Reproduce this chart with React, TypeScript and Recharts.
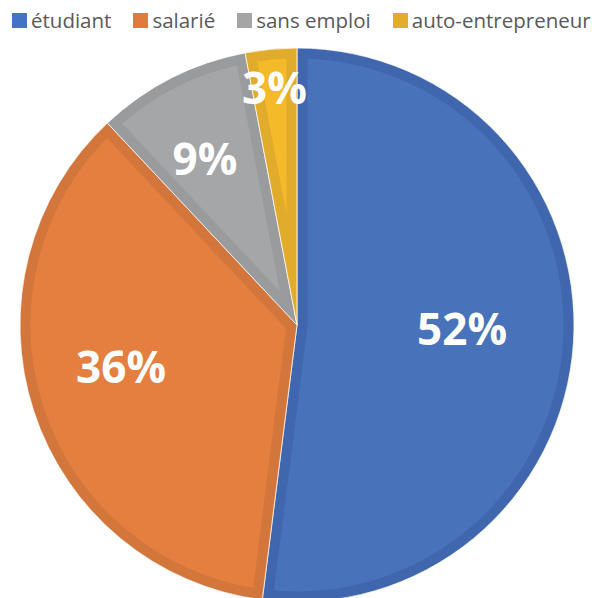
import React from 'react';
import { PieChart, Pie, Cell } from 'recharts';

const categories = ['étudiant', 'salarié', 'sans emploi', 'auto-entrepreneur'];
const values = [52, 36, 9, 3];
const labels = ['52%', '36%', '9%', '3%'];

const fills = ['#4872BA', '#E47F3F', '#A5A6A8', '#F4BA2A'];
const borders = ['#4067AE', '#D3763B', '#9A9B9D', '#E1AB2B'];
const legendColors = ['#4472C4', '#E27B3A', '#A5A5A5', '#E3AC2C'];
const labelFactors = [0.596, 0.652, 0.688, 0.863];
const labelAngleShift = [-2.6, 4.9, -1.9, 0];

const data = categories.map((name, i) => ({ name, value: values[i], label: labels[i] }));

const RAD = Math.PI / 180;

function pt(cx: number, cy: number, r: number, a: number) {
  return [cx + r * Math.cos(-a * RAD), cy + r * Math.sin(-a * RAD)];
}

function SliceShape(props: any) {
  const { cx, cy, outerRadius, startAngle, endAngle, index } = props;
  const [x1, y1] = pt(cx, cy, outerRadius, startAngle);
  const [x2, y2] = pt(cx, cy, outerRadius, endAngle);
  const large = Math.abs(startAngle - endAngle) > 180 ? 1 : 0;
  const sweep = startAngle > endAngle ? 1 : 0;
  const d = `M${cx},${cy}L${x1},${y1}A${outerRadius},${outerRadius},0,${large},${sweep},${x2},${y2}Z`;
  const id = `slice-clip-${index}`;
  return (
    <g>
      <defs>
        <clipPath id={id}>
          <path d={d} />
        </clipPath>
      </defs>
      <path d={d} fill={fills[index]} stroke={borders[index]} strokeWidth={21} clipPath={`url(#${id})`} />
      <path d={d} fill="none" stroke="#ffffff" strokeOpacity={0.75} strokeWidth={1} />
    </g>
  );
}

function renderLabel(props: any) {
  const { cx, cy, midAngle, outerRadius, index } = props;
  const r = outerRadius * labelFactors[index];
  const [x, y] = pt(cx, cy, r, midAngle - labelAngleShift[index]);
  return (
    <text
      x={x}
      y={y}
      fill="#ffffff"
      textAnchor="middle"
      dominantBaseline="central"
      fontFamily="'Open Sans', sans-serif"
      fontWeight={700}
      fontSize={44}
    >
      {labels[index]}
    </text>
  );
}

export default function App() {
  return (
    <div style={{ position: 'absolute', left: 0, top: 0, width: 598, height: 598, background: '#fff', overflow: 'hidden' }}>
      <PieChart width={598} height={598} margin={{ top: 0, right: 0, bottom: 0, left: 0 }}>
        <Pie
          data={data}
          dataKey="value"
          nameKey="name"
          cx={297}
          cy={325}
          outerRadius={277}
          startAngle={90}
          endAngle={-270}
          stroke="none"
          shape={SliceShape}
          label={renderLabel}
          labelLine={false}
          isAnimationActive={false}
        >
          {data.map((d, i) => (
            <Cell key={d.name} fill={fills[i]} />
          ))}
        </Pie>
      </PieChart>
      <div
        style={{
          position: 'absolute',
          left: 12,
          top: 6,
          display: 'flex',
          alignItems: 'center',
          fontFamily: "'Open Sans', sans-serif",
          fontSize: 20.5,
          color: '#595959',
          whiteSpace: 'nowrap',
          lineHeight: '28px',
        }}
      >
        {categories.map((c, i) => (
          <div key={c} style={{ display: 'flex', alignItems: 'center', marginRight: 22 }}>
            <div style={{ width: 15, height: 15, background: legendColors[i], marginRight: 4 }} />
            <span>{c}</span>
          </div>
        ))}
      </div>
    </div>
  );
}
